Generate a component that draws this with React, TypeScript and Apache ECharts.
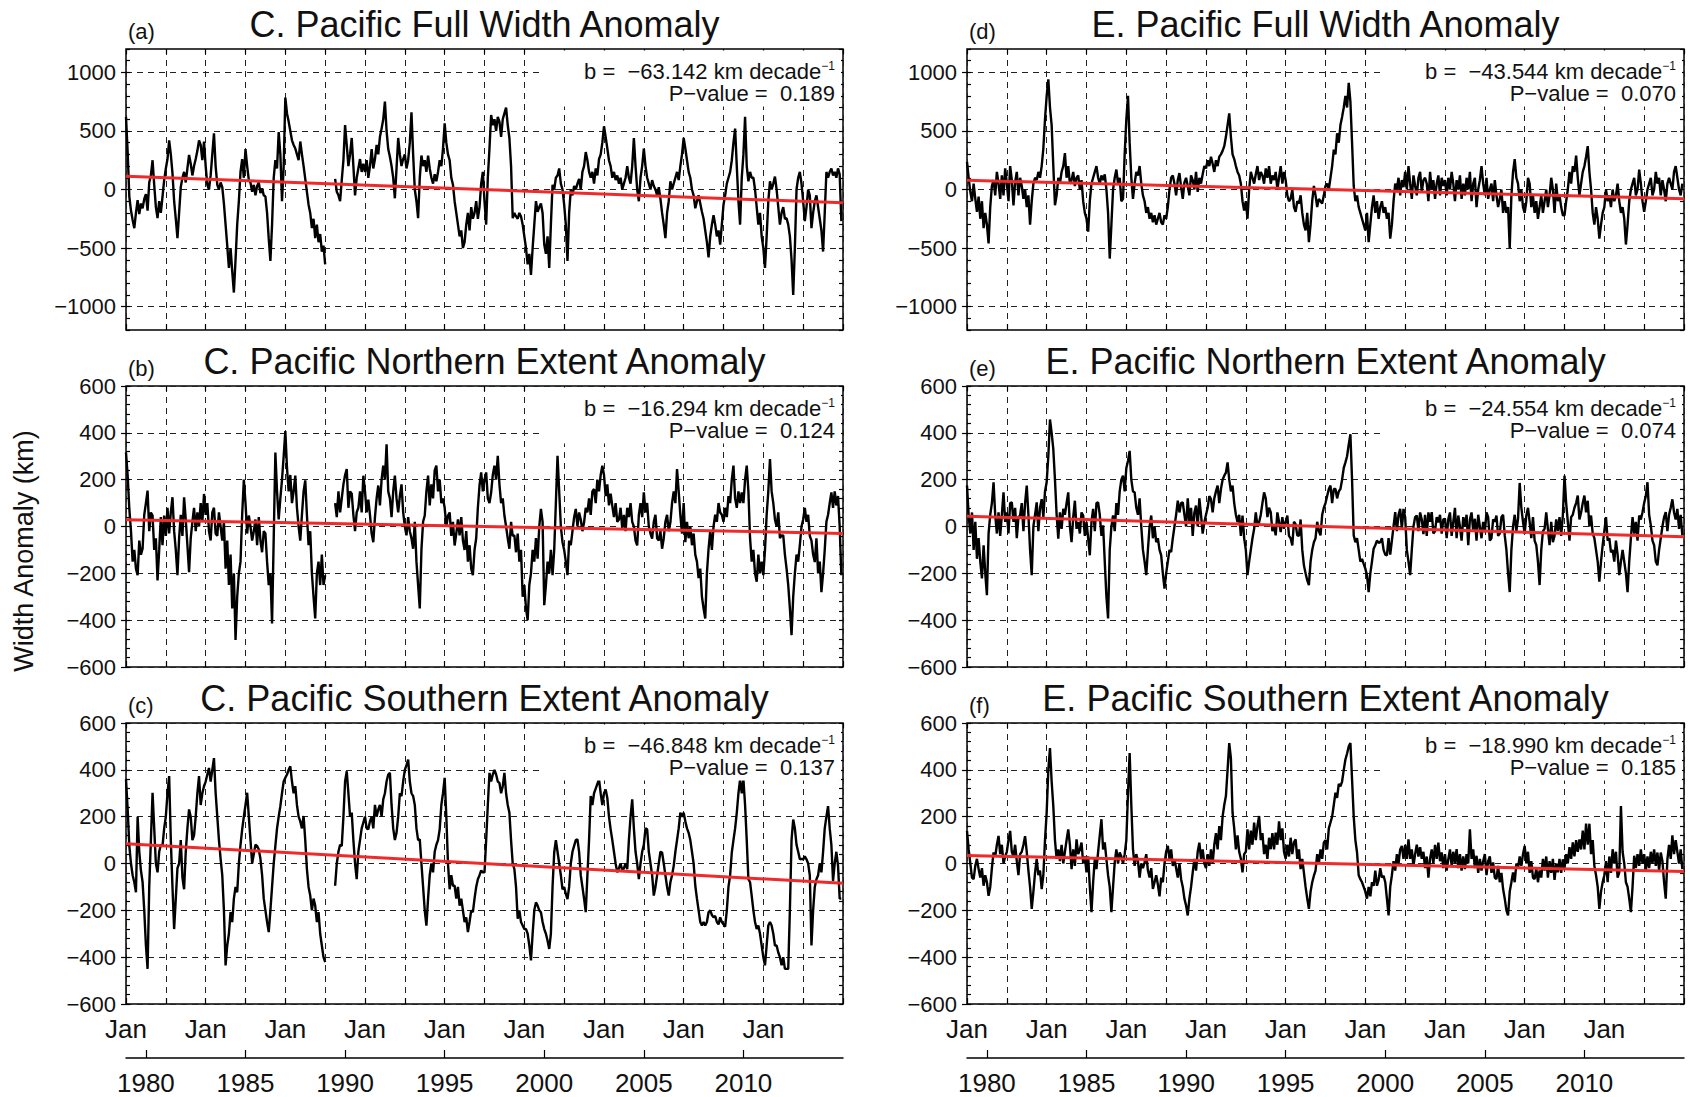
import React, { useEffect, useRef } from "react";
import * as echarts from "echarts";

const FONT = "'Liberation Sans', Arial, Helvetica, sans-serif";
const N_MONTHS = 432; // Jan 1979 .. Dec 2014, one value per month

// C. Pacific full width anomaly (km)
const cpFullWidth: (number | null)[] = [
  620, 320, -60, -180, -260, -330, -200, -90, -210, -120, -160, -80,
  -40, -180, 60, 120, 250, 40, -150, -245, -100, -200, -60, 80,
  180, 260, 420, 300, 140, -100, -250, -415, -200, 20, 100, 150,
  60, 180, 295, 220, 120, 200, 260, 330, 420, 380, 250, 410,
  200, 40, 0, 120, 300, 480, 200, 40, 0, 60, 20, -120,
  -300, -480, -670, -500, -700, -880, -600, -300, -100, 150, 260, 100,
  345, 200, 80, 60, -20, 40, -50, 30, 60, -30, 10, -50,
  -60, -200, -420, -610, -300, 100, 250, 180, 490, 300, -100, 200,
  785, 650, 580, 500, 420, 380, 350, 300, 250, 410, 300, 200,
  90, -20, -130, -200, -330, -250, -415, -300, -450, -380, -530, -480,
  -640, null, null, null, null, null, 90, -20, -50, -100, 80, 250,
  550, 380, 200, 300, 440, 200, -50, 100, 180, 260, 150, 220,
  150, 250, 100, 200, 345, 180, 260, 380, 300, 450, 520, 600,
  750, 500, 345, 280, 200, 100, -75, 180, 440, 300, 200, 260,
  300, 180, 250, 400, 660, 300, 0, -100, -245, 100, 290, 200,
  250, 150, 290, 180, 100, 50, 130, 70, 150, 250, 200, 350,
  565, 400, 300, 250, 100, 40, -100, -200, -300, -400, -350, -500,
  -450, -300, -200, -350, -150, -250, -200, -100, -250, -150, 50, 150,
  -100, -300, 100, 350, 636, 550, 600, 500, 620, 580, 450, 600,
  650, 700, 550, 440, 200, -245, -200, -230, -250, -200, -230, -300,
  -400, -500, -640, -550, -730, -500, -300, -100, -190, -150, -120, -200,
  -470, -550, -400, -670, -300, 40, 0, 100, 120, 180, 50, 0,
  -130, -300, -610, -200, 0, -50, 30, 0, 50, 90, 0, 150,
  200, 320, 250, 150, 100, 150, 50, 180, 120, 260, 300, 400,
  540, 450, 350, 250, 200, 100, 150, 80, 120, 50, 100, 0,
  50, 100, 200, 100, 50, 200, 440, 200, 0, -100, 100, 200,
  350, 200, 100, 50, 0, 80, 30, 0, -50, 20, -80, -200,
  -300, -415, -200, -100, 70, 0, 50, 100, 150, 80, 200, 300,
  440, 350, 250, 150, 100, 0, -50, -160, -100, -50, -120, -190,
  -250, -350, -450, -580, -400, -300, -220, -300, -400, -350, -470, -300,
  -130, -50, 50, 100, 150, 250, 400, 520, 200, -100, -300, 100,
  300, 620, 200, 70, 150, 100, 100, 0, -150, -300, -200, -400,
  -500, -670, -400, -100, 70, 0, 50, 110, 0, -150, -300, -200,
  -150, -250, -245, -300, -400, -600, -900, -500, 0, 100, 150, 50,
  -100, -270, -150, 0, -50, -330, -200, -100, -50, -150, -250, -350,
  -530, -200, 150, 100, 150, 180, 120, 150, 100, 180, 130, -270,
];

// C. Pacific northern extent anomaly (km)
const cpNorthExtent: (number | null)[] = [
  316, 217, 75, -20, -150, -100, -180, -208, -60, -120, -95, 50,
  100, 153, -20, 60, 47, -100, -50, -230, -100, 40, -80, 47,
  -40, 80, -30, 60, 125, -20, -100, -208, -50, 50, -40, 125,
  30, -80, -195, -50, 20, 80, -20, 60, 0, 100, 20, 139,
  50, 100, -20, -60, 60, 80, -30, -40, 60, 0, -60, 20,
  -180, -60, -250, -120, -350, -200, -485, -300, -200, -150, 50, 200,
  100, -30, 47, 0, -60, -20, 30, -80, 40, -60, -110, -20,
  -30, -150, -250, -200, -414, -50, 316, 150, 30, 120, 200, 300,
  408, 250, 150, 220, 100, 150, 217, 80, 0, -60, 50, 150,
  197, 50, -80, -20, -200, -300, -393, -200, -150, -250, -120, -250,
  -208, null, null, null, null, null, 100, 40, 150, 60, 120, 180,
  220, 245, 80, 150, 140, 50, -20, 60, 80, 150, 60, 217,
  150, 60, 115, 50, -30, -67, 40, 120, 175, 90, 200, 260,
  200, 351, 150, 120, 40, 150, 217, 120, 60, 130, 180, 60,
  0, -38, 40, -20, -50, -95, 20, -150, -250, -350, -100, 20,
  47, 150, 217, 90, 180, 120, 240, 260, 150, 200, 100, 120,
  80, 0, 47, 60, -40, 20, -81, -30, 30, -38, 40, -60,
  -100, -20, -150, -80, -180, -208, -100, -50, 80, 175, 231, 150,
  200, 231, 120, 100, 145, 220, 260, 200, 302, 180, 100, 120,
  47, 0, -50, -95, 20, -40, -38, -110, -30, -150, -100, -300,
  -250, -350, -400, -250, -200, -100, -150, -50, -137, 0, 75, 20,
  -336, -250, -150, -200, -100, -208, -100, 100, 302, 150, 0, -67,
  -100, -150, -208, -60, -80, -20, 40, 75, 0, 60, 30, -20,
  18, 80, 60, 120, 50, 150, 160, 100, 200, 150, 220, 260,
  220, 130, 180, 90, 140, 88, 40, 100, 20, 30, 80, -10,
  50, -20, 80, 40, 100, 20, 0, -60, -81, 50, 100, 40,
  146, 60, 100, 0, -30, -52, 20, 50, -50, -60, -20, -95,
  -50, 20, 50, -20, 18, 100, 150, 100, 245, 150, 50, -30,
  100, -67, 20, -50, 0, -80, -30, -120, -150, -220, -180, -300,
  -350, -393, -200, -95, -20, -100, 0, 50, 20, 100, 60, 50,
  20, 80, 40, 130, 100, 200, 260, 120, 80, 150, 100, 145,
  100, 200, 260, 150, -50, -150, -100, -200, -236, -120, -200, -150,
  -208, -100, 50, 150, 288, 150, 100, 30, 0, 60, -50, -38,
  -38, -120, -180, -250, -350, -464, -300, -200, -120, -150, -80, 0,
  30, 80, 20, 50, -40, -60, -120, -152, -50, -200, -150, -280,
  -200, -100, 20, 50, 100, 146, 80, 150, 90, 130, 0, -208,
];

// C. Pacific southern extent anomaly (km)
const cpSouthExtent: (number | null)[] = [
  359, 231, 75, 0, -50, -80, -123, 200, 50, -30, -80, -200,
  -350, -450, -100, 100, 302, 150, 0, -38, 50, 80, 75, 150,
  200, 300, 373, 100, -100, -280, -150, -20, 0, 100, -60, -110,
  50, 150, 231, 200, 100, 120, 200, 300, 373, 250, 300, 330,
  350, 380, 408, 350, 400, 450, 302, 200, 100, 20, -50, -200,
  -435, -350, -300, -208, -250, -150, -100, -123, 0, 80, 146, 200,
  250, 302, 200, 100, 0, 40, 80, 75, 60, 20, -50, -150,
  -200, -250, -293, -200, -100, 0, 75, 150, 200, 245, 300, 350,
  366, 380, 400, 415, 350, 300, 330, 250, 200, 180, 150, 203,
  100, -24, -100, -137, -200, -150, -180, -250, -208, -300, -350, -400,
  -421, null, null, null, null, null, -95, 0, 50, 80, 75, 200,
  350, 394, 300, 200, 217, 100, 0, -67, 50, 100, 150, 175,
  200, 150, 146, 180, 200, 150, 250, 200, 231, 250, 200, 274,
  300, 350, 380, 387, 250, 150, 100, 131, 200, 300, 288, 350,
  400, 420, 444, 350, 300, 288, 250, 150, 100, 103, 0, -100,
  -200, -265, -150, -50, 0, -38, 50, 80, 100, 146, 250, 300,
  366, 200, 0, -110, -50, -95, -95, -150, -100, -180, -150, -200,
  -250, -230, -293, -250, -200, -208, -150, -100, -67, -50, -30, -38,
  -38, 100, 250, 387, 350, 380, 400, 380, 350, 344, 300, 330,
  387, 300, 250, 217, 100, 0, -24, -100, -236, -200, -250, -265,
  -280, -280, -300, -350, -414, -300, -200, -166, -180, -200, -208, -250,
  -280, -300, -330, -365, -300, -100, 47, 100, 50, 0, -50, -110,
  -100, -130, -152, -100, 0, 50, 75, 100, 103, 50, -50, -100,
  -150, -208, -50, 100, 288, 250, 300, 320, 340, 359, 300, 250,
  300, 316, 280, 200, 146, 100, 50, 0, -38, -20, 0, -30,
  -20, 0, -24, 100, 200, 274, 150, 50, 0, -67, 0, 50,
  80, 150, 146, 50, 0, -50, -137, -100, -50, 0, 50, 47,
  0, -50, -100, -137, -80, -50, -10, 50, 100, 150, 217, 200,
  217, 180, 150, 131, 100, 50, 0, -95, -150, -200, -250, -265,
  -250, -265, -250, -208, -200, -220, -230, -224, -250, -260, -230, -250,
  -260, -270, -200, -100, -50, 47, 100, 150, 216, 300, 359, 300,
  359, 250, 100, -67, -80, -138, -200, -250, -280, -265, -300, -350,
  -400, -435, -350, -265, -250, -265, -300, -350, -350, -380, -400, -435,
  -400, -450, -450, -450, -200, 100, 188, 150, 80, 50, 18, 20,
  18, 30, 18, 0, -50, -350, -200, -100, -67, -50, 0, -38,
  50, 150, 200, 245, 150, 80, -75, 0, 50, -10, -150, -150,
];

// E. Pacific full width anomaly (km)
const epFullWidth: (number | null)[] = [
  235, 100, -20, -100, 50, -80, -190, -60, -250, -100, -330, -200,
  -300, -460, -150, 30, 80, -50, 150, 50, -80, 120, -50, 180,
  50, -100, 200, 80, -135, 60, 150, -50, 100, 30, -80, 0,
  -150, -50, -300, -100, 50, 100, 80, 150, 100, 200, 350, 600,
  800, 940, 700, 550, 200, -135, -50, 100, 50, 150, 200, 310,
  100, 200, 50, 80, 150, 30, 100, 120, 0, 80, -100, -200,
  -250, -360, -100, 50, 100, 150, 200, 100, 50, 120, 80, 130,
  0, -200, -590, -300, 0, 100, 170, 50, 100, -100, -80, 300,
  600, 800, 400, 100, -80, 50, 150, 120, 200, 50, -50, -100,
  -200, -150, -250, -200, -280, -220, -300, -250, -200, -280, -300, -220,
  -250, -150, 0, 100, 120, 50, -50, 80, 140, 20, -80, 60,
  100, 30, -50, 120, 80, 0, 150, -20, 100, 50, 130, 200,
  180, 250, 200, 280, 220, 150, 250, 200, 280, 300, 330, 370,
  450, 550, 650, 450, 300, 260, 200, 150, 120, 50, -100, -180,
  -100, -250, 0, 150, 100, 50, 130, 200, 80, 150, 120, 50,
  180, 100, 200, 50, 120, 80, 150, 0, 100, 200, 50, 150,
  80, -50, -100, -80, 0, -150, -190, -100, -120, -50, -200, -300,
  -350, -200, -450, -300, -100, 30, -50, -150, -80, -100, -120, -50,
  30, 50, 0, 100, 200, 340, 300, 480, 400, 550, 620, 700,
  800, 700, 910, 750, 400, 30, -100, -50, -150, -200, -250, -300,
  -350, -200, -450, -300, -150, -50, -200, -100, -250, -150, -100, -200,
  -150, -250, -200, -420, -300, -100, 50, 0, 100, -50, 80, 20,
  150, 0, 200, 50, -80, 120, 30, -50, 100, 150, -20, 80,
  100, 50, -100, 150, 0, 80, -80, 50, 120, -50, 100, 30,
  80, -50, 100, 0, 150, 50, -100, 80, 0, 120, -80, 50,
  -50, 100, 0, 150, -100, 50, 100, -150, 0, 80, 200, 50,
  -50, 100, -80, 0, 50, -100, 80, -50, -150, -80, 0, -200,
  -100, -200, -150, -500, -50, 150, 260, 100, 50, -100, 0, -150,
  -200, -100, 100, 50, -150, -50, -200, -100, -250, -150, -50, -200,
  -100, 0, -150, -50, 100, 0, -200, 50, -100, -50, -150, -220,
  -220, -100, 0, 150, 50, 200, 150, 290, 100, -50, 50, 150,
  200, 280, 370, 150, 0, -200, -300, -150, -250, -420, -300, -200,
  -150, 0, -100, -50, -150, 0, -100, -50, 50, -100, -200, -150,
  -250, -470, -300, -100, 0, 50, 100, -50, 0, 170, 50, -100,
  -190, -100, 0, 50, 100, -50, 0, 150, 50, 100, -50, 80,
  0, -100, 50, 100, 50, 0, 150, 200, 100, 0, -50, 50,
];

// E. Pacific northern extent anomaly (km)
const epNorthExtent: (number | null)[] = [
  175, 47, -30, 60, -100, 20, -138, -50, -150, -222, -80, -200,
  -293, -30, 50, 100, 189, 50, -30, 60, -40, 50, 146, 20,
  60, -30, 100, 103, 20, 80, -50, 40, 47, 100, -20, 100,
  175, 50, -100, -208, 0, 50, 103, -20, 80, 117, 40, 150,
  189, 300, 457, 400, 330, 200, 50, -52, 60, -10, 75, 50,
  100, 146, 0, -67, 40, 110, -10, 20, -30, 60, 47, -40,
  20, -50, -123, 20, 75, -20, 100, 103, 50, -40, 5, -150,
  -300, -393, -100, 0, 47, -20, 100, 50, 150, 200, 217, 150,
  250, 280, 323, 200, 150, 146, 80, 50, 120, 0, -100, -150,
  -208, -100, 0, 47, -50, 0, -67, -50, -100, -123, -200, -265,
  -200, -150, -100, -109, -50, 0, 50, 110, 60, 100, 103, 50,
  0, 120, 18, 80, -40, 60, 89, 0, 120, 50, -30, 18,
  50, 80, 130, 117, 60, 120, 150, 175, 100, 160, 200, 217,
  230, 274, 200, 150, 175, 100, 50, 18, 50, -40, 47, -50,
  -100, -208, -150, -100, -50, -10, 60, 0, 18, 50, 100, 146,
  120, 40, 80, 61, -20, 0, -38, 60, 20, -24, 40, -10,
  20, 47, -40, -50, -81, 20, 10, -38, -40, 30, -100, -166,
  -200, -230, -250, -150, -100, -67, -50, 20, -20, -38, 50, 80,
  100, 130, 160, 175, 100, 160, 160, 120, 150, 160, 200, 250,
  274, 300, 350, 394, 200, -38, -67, -50, -100, -150, -138, -160,
  -180, -208, -280, -200, -150, -95, -80, -60, -70, -67, -50, -100,
  -120, -123, -50, -120, -60, 0, 61, -20, 50, 75, -10, 75,
  40, -100, -150, -208, -100, 0, 40, 47, -20, 60, 30, -33,
  50, -40, 60, 20, 61, -30, -20, 40, 18, 50, -30, 30,
  33, -50, 32, 60, -40, 20, 80, -50, 47, 0, -60, 40,
  0, 50, -80, 30, 60, -20, 33, -60, 50, 0, -50, 20,
  -24, 60, 40, -60, -50, 30, 20, 47, -40, -30, 40, 50,
  -38, -100, -200, -280, -100, 0, 50, -20, 33, 186, 80, 20,
  -30, 47, 80, 20, -50, 40, -60, -80, -150, -250, -100, -20,
  -10, 60, -10, -80, 20, -67, -40, 30, -20, 40, -40, 47,
  217, 100, 20, -60, 40, 50, 80, 100, 132, 30, 60, 100,
  132, 60, 110, 0, 47, -30, -50, -100, -150, -236, -150, -80,
  -20, 40, -60, -50, -110, -100, -150, -60, -120, -208, -150, -100,
  -150, -200, -280, -150, -50, 40, -30, 20, -60, 47, 30, 61,
  100, 130, 189, 50, 5, -60, -80, -150, -166, -100, -50, 0,
  40, 61, -20, 50, 80, 116, 60, 30, 75, -10, 50, -38,
];

// E. Pacific southern extent anomaly (km)
const epSouthExtent: (number | null)[] = [
  139, 60, 0, -60, -67, -10, 20, -24, -60, -20, -95, -50,
  -80, -138, -100, -20, 47, 30, 80, 118, 40, 80, 0, 30,
  50, 100, 139, 50, 30, 80, 10, -50, 40, 50, 80, 117,
  50, -30, -100, -194, -120, -40, 20, -50, -30, -109, -50, 100,
  217, 400, 493, 350, 245, 100, 20, 60, 10, 80, 0, 50,
  100, 146, 80, -24, 60, -10, 103, 40, 60, 89, 0, 30,
  -38, 30, -100, -208, -80, 20, -24, 50, 120, 189, 60, 90,
  18, -50, -100, -208, -100, 5, 60, 0, 47, 30, 0, 40,
  100, 300, 472, 250, 60, -10, 40, 10, -60, 0, -20, 5,
  40, -30, -60, -20, -109, -80, -50, -90, -140, -60, -80, 0,
  50, 75, 20, 60, -10, 18, -20, -60, 0, -67, -100, -150,
  -180, -222, -150, -100, -38, 20, -30, 50, 89, 20, 60, 0,
  -20, 40, -10, 60, 0, 80, 130, 60, 160, 100, 200, 250,
  288, 400, 514, 450, 217, 150, 60, 120, 50, 20, -38, 40,
  50, 146, 60, 140, 80, 175, 100, 160, 203, 100, 130, 40,
  80, 20, 110, 61, 130, 60, 132, 80, 180, 100, 150, 50,
  20, 80, 30, 110, 40, 90, 103, 20, 60, -24, 20, -40,
  -100, -150, -194, -120, -80, -52, -30, 40, 0, 60, 20, 89,
  100, 60, 150, 175, 200, 250, 302, 280, 340, 330, 350, 400,
  444, 470, 500, 514, 360, 200, 100, 47, -50, -67, -80, -100,
  -120, -150, -100, -140, -80, -95, -30, -95, -70, -20, -60, -52,
  -80, -150, -222, -100, -50, 10, -30, 40, 0, 60, 75, 20,
  80, 20, 103, 20, 60, -10, 40, 80, 30, 70, 20, 50,
  -20, 30, -60, 20, 60, 0, 80, 20, 89, 10, 47, -20,
  40, -30, 18, 60, -10, 50, 0, 61, -20, 40, -30, 30,
  -24, 40, 0, 146, 20, 60, -20, 33, -40, 20, -30, 10,
  40, -50, 10, 30, -40, 5, -60, -67, -10, -80, -40, -109,
  -150, -200, -222, -120, -80, -38, -80, 0, -20, 30, -10, 40,
  75, 0, 50, -40, 10, -60, -67, -20, -80, -30, -60, 20,
  -30, 30, -60, 10, -40, 20, -70, 0, -38, 20, -40, 18,
  -20, 40, 0, 70, 20, 90, 30, 100, 50, 103, 60, 140,
  60, 170, 80, 170, 40, 100, -10, -50, -100, -194, -120, -80,
  -50, 10, -80, 30, -40, 61, 0, 50, -60, -38, 245, 50,
  0, -80, -100, -150, -208, -100, 33, -20, 40, -10, 60, 0,
  40, -30, 30, -20, 50, 0, 60, -10, 47, -30, 47, 10,
  -80, -150, 18, 80, 20, 120, 40, 100, 50, 0, 60, -24,
];

const panelSeries = [cpFullWidth, cpNorthExtent, cpSouthExtent, epFullWidth, epNorthExtent, epSouthExtent];
const panelLetters = ["(a)", "(b)", "(c)", "(d)", "(e)", "(f)"];
const panelTitles = [
  "C. Pacific Full Width Anomaly",
  "C. Pacific Northern Extent Anomaly",
  "C. Pacific Southern Extent Anomaly",
  "E. Pacific Full Width Anomaly",
  "E. Pacific Northern Extent Anomaly",
  "E. Pacific Southern Extent Anomaly",
];
// linear trend, km per decade, and its significance
const trendSlopes = [-63.142, -16.294, -46.848, -43.544, -24.554, -18.99];
const trendSlopeLabels = ["\u221263.142", "\u221216.294", "\u221246.848", "\u221243.544", "\u221224.554", "\u221218.990"];
const trendPValues = ["0.189", "0.124", "0.137", "0.070", "0.074", "0.185"];

const yAxisLimit = [1200, 600, 600, 1200, 600, 600];
const yMajorStep = [500, 200, 200, 500, 200, 200];
const yMinorStep = [100, 40, 40, 100, 40, 40];

const janTickMonths = [0, 48, 96, 144, 192, 240, 288, 336, 384];
const yearTickLabels = [1980, 1985, 1990, 1995, 2000, 2005, 2010];
const yearTickMonths = yearTickLabels.map((y) => (y - 1979) * 12);

const COL_LEFT = [126, 967];
const ROW_TOP = [49, 386, 723];
const PW = 717;
const PH = 281;

const fmtSigned = (v: number) => (v < 0 ? "\u2212" + Math.abs(v) : String(v));

function buildOption() {
  const grid: any[] = [];
  const xAxis: any[] = [];
  const yAxis: any[] = [];
  const series: any[] = [];
  const graphic: any[] = [];

  panelSeries.forEach((values, i) => {
    const col = Math.floor(i / 3);
    const row = i % 3;
    const L = COL_LEFT[col];
    const T = ROW_TOP[row];
    const bottomRow = row === 2;
    const lim = yAxisLimit[i];
    const maj = yMajorStep[i];
    const mnr = yMinorStep[i];

    grid.push({ left: L, top: T, width: PW, height: PH, show: true, borderColor: "#000", borderWidth: 1.5, backgroundColor: "#fff" });

    const xi = xAxis.length;
    xAxis.push({
      type: "value", gridIndex: i, position: "bottom", min: 0, max: N_MONTHS, interval: 24,
      axisLine: { show: false, onZero: false },
      axisTick: { show: true, inside: true, length: 6, lineStyle: { color: "#000", width: 1.2 } },
      axisLabel: {
        show: bottomRow, margin: 12, fontSize: 26, color: "#111", fontFamily: FONT,
        formatter: (v: number) => (janTickMonths.includes(Math.round(v)) ? "Jan" : ""),
      },
      splitLine: { show: true, lineStyle: { color: "#222", width: 1, type: [6, 5] } },
    });
    xAxis.push({
      type: "value", gridIndex: i, position: "top", min: 0, max: N_MONTHS, interval: 24,
      axisLine: { show: false, onZero: false },
      axisTick: { show: true, inside: true, length: 5, lineStyle: { color: "#000", width: 1.2 } },
      axisLabel: { show: false }, splitLine: { show: false },
    });
    if (bottomRow) {
      xAxis.push({
        type: "value", gridIndex: i, position: "bottom", offset: 54, min: 0, max: N_MONTHS,
        axisLine: { show: true, onZero: false, lineStyle: { color: "#000", width: 1.5 } },
        axisTick: { show: true, inside: true, length: 8, customValues: yearTickMonths, lineStyle: { color: "#000", width: 1.2 } },
        axisLabel: {
          show: true, margin: 12, fontSize: 26, color: "#111", fontFamily: FONT, customValues: yearTickMonths,
          formatter: (v: number) => String(1979 + Math.round(v) / 12),
        },
        splitLine: { show: false },
      });
    }

    // split lines only on the labelled values
    const cycle = maj / mnr;
    const firstMajor = Math.ceil(-lim / maj) * maj;
    const offIdx = Math.round((firstMajor + lim) / mnr) % cycle;
    const lineColors = Array.from({ length: cycle }, (_, k) => (k === offIdx ? "#222" : "rgba(0,0,0,0)"));
    const majors: number[] = [];
    for (let v = firstMajor; v <= lim; v += maj) majors.push(v);

    const yi = yAxis.length;
    yAxis.push({
      type: "value", gridIndex: i, position: "left", min: -lim, max: lim, interval: mnr,
      axisLine: { show: false, onZero: false },
      axisTick: { show: true, inside: true, length: 4, lineStyle: { color: "#000", width: 1.2 } },
      axisLabel: {
        show: true, margin: 10, fontSize: 22, color: "#111", fontFamily: FONT,
        formatter: (v: number) => (Math.round(v) % maj === 0 ? fmtSigned(Math.round(v)) : ""),
      },
      splitLine: { show: true, lineStyle: { color: lineColors, width: 1, type: [6, 5] } },
    });
    yAxis.push({
      type: "value", gridIndex: i, position: "left", min: -lim, max: lim,
      axisLine: { show: false, onZero: false },
      axisTick: { show: true, inside: false, length: 5, customValues: majors, lineStyle: { color: "#000", width: 1.2 } },
      axisLabel: { show: false }, splitLine: { show: false },
    });
    yAxis.push({
      type: "value", gridIndex: i, position: "right", min: -lim, max: lim, interval: mnr,
      axisLine: { show: false, onZero: false },
      axisTick: { show: true, inside: true, length: 4, lineStyle: { color: "#000", width: 1.2 } },
      axisLabel: { show: false }, splitLine: { show: false },
    });

    series.push({
      type: "line", xAxisIndex: xi, yAxisIndex: yi, symbol: "none", connectNulls: false, silent: true, z: 3,
      lineStyle: { color: "#000", width: 2.4 },
      data: values.map((v, m) => [m, v === null ? "-" : v]),
    });
    const slope = trendSlopes[i] / 120; // km per month
    const mid = (N_MONTHS - 1) / 2;
    series.push({
      type: "line", xAxisIndex: xi, yAxisIndex: yi, symbol: "none", silent: true, z: 4,
      lineStyle: { color: "#f02a2a", width: 3 },
      data: [0, N_MONTHS].map((m) => [m, slope * (m - mid)]),
    });

    graphic.push(
      {
        type: "text", x: L + PW / 2, y: T - 25, z: 100,
        style: { text: panelTitles[i], fontSize: 36, fill: "#111", fontFamily: FONT, align: "center", verticalAlign: "middle" },
      },
      {
        type: "text", x: L + 2, y: T - 18, z: 100,
        style: { text: panelLetters[i], fontSize: 22, fill: "#111", fontFamily: FONT, align: "left", verticalAlign: "middle" },
      },
      {
        type: "rect", z: 100, shape: { x: L + PW - 300, y: T + 1.5, width: 298, height: 56 },
        style: { fill: "#fff" },
      },
      {
        type: "text", x: L + PW - 8, y: T + 22, z: 101,
        style: {
          text: `{m|b =  ${trendSlopeLabels[i]} km decade}{s|\u22121}`,
          align: "right", verticalAlign: "middle", fill: "#111", fontFamily: FONT,
          rich: {
            m: { fontSize: 22, fontFamily: FONT, fill: "#111", lineHeight: 22 },
            s: { fontSize: 12, fontFamily: FONT, fill: "#111", verticalAlign: "top", lineHeight: 22 },
          },
        },
      },
      {
        type: "text", x: L + PW - 8, y: T + 44, z: 101,
        style: { text: `P\u2212value =  ${trendPValues[i]}`, fontSize: 22, fill: "#111", fontFamily: FONT, align: "right", verticalAlign: "middle" },
      }
    );
  });

  graphic.push({
    type: "text", x: 24, y: 551, rotation: Math.PI / 2, z: 100,
    style: { text: "Width Anomaly (km)", fontSize: 27, fill: "#111", fontFamily: FONT, align: "center", verticalAlign: "middle" },
  });

  return { animation: false, backgroundColor: "#fff", grid, xAxis, yAxis, series, graphic };
}

export default function App() {
  const ref = useRef<HTMLDivElement>(null);
  useEffect(() => {
    if (!ref.current) return;
    const chart = echarts.init(ref.current, null, { renderer: "svg" });
    chart.setOption(buildOption() as any);
    return () => chart.dispose();
  }, []);
  return <div ref={ref} style={{ position: "fixed", left: 0, top: 0, width: 1690, height: 1097, background: "#fff" }} />;
}
